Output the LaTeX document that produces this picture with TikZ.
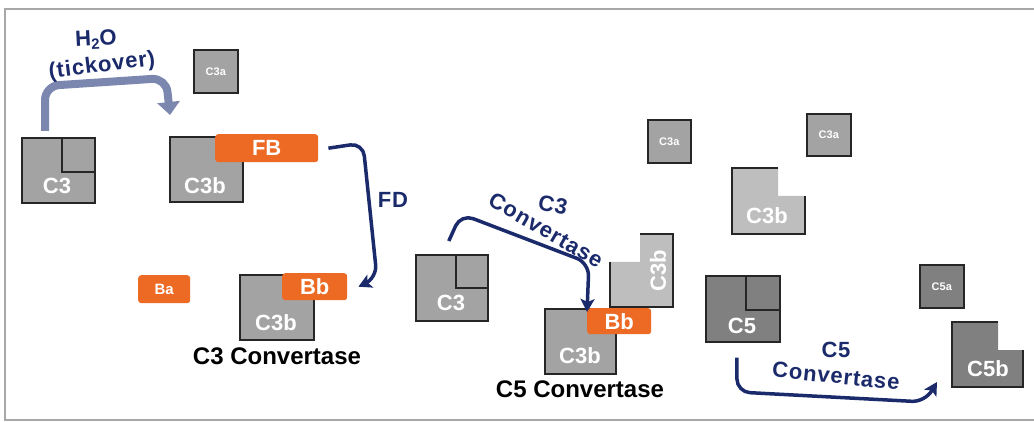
\documentclass[tikz,border=0pt]{standalone}
\usepackage{fontspec}
\setmainfont{Liberation Sans}
\newfontfamily\spaced[LetterSpace=4]{Liberation Sans}
\usetikzlibrary{arrows.meta,calc}

\definecolor{navy}{HTML}{1B2A6B}
\definecolor{tick}{HTML}{7C87B0}
\definecolor{orng}{HTML}{EC6A24}
\definecolor{midgray}{HTML}{A3A3A3}
\definecolor{palegray}{HTML}{BEBEBE}
\definecolor{darkgray}{HTML}{808080}
\definecolor{framegray}{HTML}{A8A8A8}

\tikzset{
  box/.style={draw=black!85, line width=1.6pt, fill=midgray, inner sep=0pt, anchor=north west},
  pill/.style={fill=orng, rounded corners=3pt, inner sep=0pt, anchor=north west, text=white,
    font=\bfseries\fontsize{22}{22}\selectfont},
  inlbl/.style={text=white, inner sep=0pt, font=\bfseries\fontsize{22}{22}\selectfont},
  tinylbl/.style={text=white, inner sep=0pt, font=\bfseries\fontsize{11}{11}\selectfont},
  caption/.style={text=black, inner sep=0pt, font=\bfseries\fontsize{24}{24}\selectfont},
  enz/.style={text=navy, inner sep=0pt, font=\spaced\bfseries\fontsize{22}{22}\selectfont},
  flow/.style={draw=navy, line width=3.5pt, rounded corners=13pt,
    -{Stealth[length=13pt,width=14pt,inset=3pt]}},
  tickflow/.style={draw=tick, line width=8pt, rounded corners=14pt,
    -{Triangle[length=13pt,width=22pt]}},
}

\begin{document}
\begin{tikzpicture}[x=1pt, y=-1pt]
\useasboundingbox (0,0) rectangle (1034,422);

% frame
\draw[framegray, line width=2pt] (1034,9) -- (5,9) -- (5,420) -- (1034,420);

% ---- C3 tickover --------------------------------------------------
\node[box, minimum width=73, minimum height=65] (c3a) at (21,137) {};
\node[box, minimum width=33, minimum height=34] (c3ain) at (61,137) {};
\node[inlbl] (c3alb) at (57,186) {C3};

\node[box, minimum width=44, minimum height=43] (c3asmall) at (193,49) {};
\node[tinylbl] at (c3asmall.center) {C3a};

\node[box, minimum width=73, minimum height=65] (c3b1) at (169,136) {};
\node[inlbl] (c3b1lb) at (205,186) {C3b};
\node[pill, minimum width=103, minimum height=28] (fb) at (215,134) {FB};

\coordinate (tstart) at (45,131);
\coordinate (tend) at (170,115);
\draw[tickflow] (tstart) -- (45,86) -- (166,78) -- (tend);
\node[enz, rotate=3] (h2o) at (96,40) {H\raisebox{-4pt}{\fontsize{15}{15}\selectfont 2}O};
\node[enz, rotate=7] (tickover) at (102,66) {(tickover)};

% ---- factor D cleavage ---------------------------------------------
\node[pill, minimum width=52, minimum height=28, font=\bfseries\fontsize{15}{15}\selectfont] (ba) at (138,275) {Ba};

\node[box, minimum width=74, minimum height=65] (c3b2) at (239,274) {};
\node[inlbl] (c3b2lb) at (276,323) {C3b};
\node[pill, minimum width=65, minimum height=27] (bb1) at (282,273) {Bb};
\node[caption] (cap1) at (277,356) {C3 Convertase};

\draw[flow] ([xshift=10pt]fb.east) -- (363,143) -- (377,278) -- ([xshift=11pt]bb1.east);
\node[enz] (fd) at (393,200) {FD};

% ---- C3 convertase acting on C3 ------------------------------------
\node[box, minimum width=72, minimum height=66] (c3m) at (415,254) {};
\node[box, minimum width=32, minimum height=33] (c3min) at (455,254) {};
\node[inlbl] (c3mlb) at (451,303) {C3};

% C3b rotated, light
\fill[palegray] (640,234) -- (673,234) -- (673,307) -- (610,307) -- (610,262) -- (640,262) -- cycle;
\draw[black!85, line width=1.6pt] (610,262) -- (610,307) -- (673,307) -- (673,234) -- (640,234);
\node[inlbl, rotate=90] (c3brot) at (658,271) {C3b};

\node[box, minimum width=71, minimum height=65] (c3b3) at (544,308) {};
\node[inlbl] (c3b3lb) at (580,356) {C3b};
\node[pill, minimum width=64, minimum height=26] (bb2) at (587,308) {Bb};
\node[caption] (cap2) at (580,389) {C5 Convertase};

\draw[flow] ([xshift=-3pt,yshift=13pt]c3m.north) -- (461,214) -- (589,263) -- ([yshift=-4pt]bb2.north west);
\node[enz, rotate=-12] (c3lbl) at (553,205) {C3};
\node[enz, rotate=-30] (convlbl) at (546,230) {Convertase};

% ---- released fragments --------------------------------------------
\node[box, minimum width=43, minimum height=43] (c3ax) at (647,119) {};
\node[tinylbl] at (c3ax.center) {C3a};
\node[box, minimum width=44, minimum height=42] (c3ay) at (806,113) {};
\node[tinylbl] at (c3ay.center) {C3a};

\fill[palegray] (732,168) -- (778,168) -- (778,196) -- (805,196) -- (805,234) -- (732,234) -- cycle;
\draw[black!85, line width=1.6pt] (778,168) -- (732,168) -- (732,234) -- (805,234) -- (805,196);
\node[inlbl] (c3bup) at (767,216) {C3b};

% ---- C5 cleavage ----------------------------------------------------
\node[box, fill=darkgray, minimum width=74, minimum height=66] (c5) at (705,275) {};
\node[box, fill=darkgray, minimum width=34, minimum height=34] (c5in) at (745,275) {};
\node[inlbl] (c5lb) at (742,326) {C5};

\node[box, fill=darkgray, minimum width=44, minimum height=43] (c5a) at (919,264) {};
\node[tinylbl] at (c5a.center) {C5a};

\fill[darkgray] (952,322) -- (998,322) -- (998,350) -- (1023,350) -- (1023,387) -- (952,387) -- cycle;
\draw[black!85, line width=1.6pt] (998,322) -- (952,322) -- (952,387) -- (1023,387) -- (1023,350);
\node[inlbl] (c5b) at (988,369) {C5b};

\coordinate (c5end) at (937,382);
\draw[flow] ([xshift=-6pt,yshift=-15pt]c5.south) -- (737,392) -- (925,402) -- (c5end);
\node[enz] (c5lbl) at (836,350) {C5};
\node[enz, rotate=-6] (conv5) at (836,376) {Convertase};
\end{tikzpicture}
\end{document}
